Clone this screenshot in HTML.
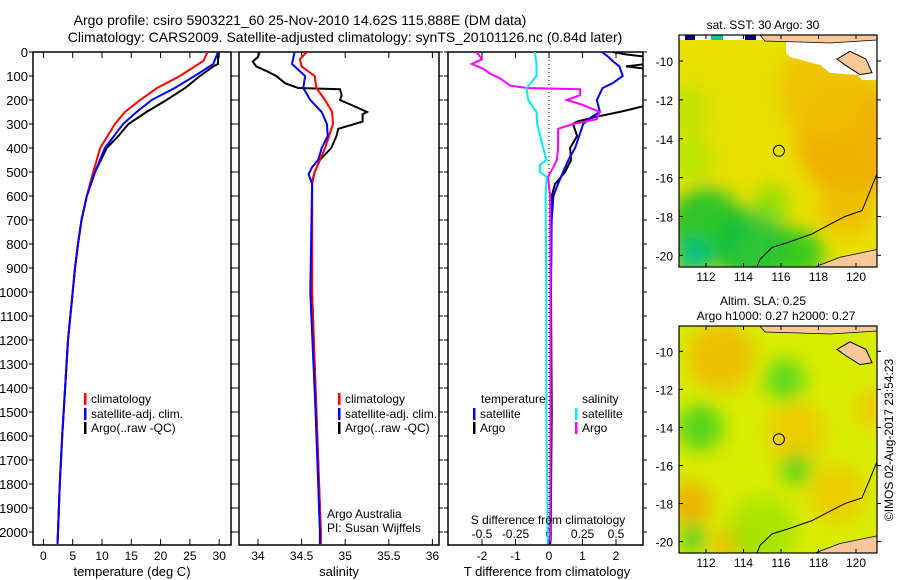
<!DOCTYPE html>
<html><head><meta charset="utf-8">
<style>
html,body{margin:0;padding:0;background:#fff;}
svg{display:block;font-family:"Liberation Sans",sans-serif;}
text{fill:#000;}
</style></head>
<body>
<svg id="chart" width="900" height="580" viewBox="0 0 900 580" xmlns="http://www.w3.org/2000/svg">
<defs>
<clipPath id="c1"><rect x="33" y="52" width="198" height="493"/></clipPath>
<clipPath id="c2"><rect x="239" y="52" width="200" height="493"/></clipPath>
<clipPath id="c3"><rect x="448" y="52" width="195" height="493"/></clipPath>
<clipPath id="m1"><rect x="679" y="35" width="198" height="232"/></clipPath>
<clipPath id="m2"><rect x="679" y="326" width="198" height="227"/></clipPath>
<filter id="blur" x="-50%" y="-50%" width="200%" height="200%"><feGaussianBlur stdDeviation="9"/></filter>
</defs>
<text x="300" y="25" font-size="14" text-anchor="middle">Argo profile: csiro 5903221_60 25-Nov-2010 14.62S 115.888E (DM data)</text>
<text x="345" y="42" font-size="14" text-anchor="middle">Climatology: CARS2009. Satellite-adjusted climatology: synTS_20101126.nc (0.84d later)</text>
<g id="panels"></g>
<g id="maps"></g>
<text transform="translate(893,440) rotate(-90)" font-size="12" text-anchor="middle">©IMOS 02-Aug-2017 23:54:23</text>
</svg>
<script>
// ---------- data ----------
const depthTicks = [0,100,200,300,400,500,600,700,800,900,1000,1100,1200,1300,1400,1500,1600,1700,1800,1900,2000];
const tempTicks = [0,5,10,15,20,25,30];
const salTicks = [34,34.5,35,35.5,36];
const tdiffTicks = [-2,-1,0,1,2];
const sdiffTicks = [-0.5,-0.25,0,0.25,0.5];
const sdiffTickLabels = ["-0.5","-0.25","0","0.25","0.5"];

const tClimDepth = [0,37,100,150,200,250,300,400,500,600,700,800,900,1000,1200,1400,1600,1800,2000,2050];
const tClimVal   = [28.0,27.3,23.3,19.4,16.5,13.9,12.2,9.7,8.5,7.4,6.5,5.9,5.4,5.0,4.2,3.7,3.2,2.8,2.5,2.4];
const tSatDepth  = [0,50,100,150,200,250,300,400,500,600,700,800,900,1000,1200,1400,1600,1800,2000,2050];
const tSatVal    = [29.8,29.0,25.8,22.4,18.5,15.9,13.6,10.5,8.8,7.4,6.5,5.9,5.4,5.0,4.2,3.7,3.2,2.8,2.5,2.4];
const tArgoDepth = [0,50,60,100,150,200,250,300,350,400,500,600,700,800,900,1000,1200,1400,1600,1800,2000,2040];
const tArgoVal   = [29.8,29.8,29.0,26.7,24.2,21.0,17.6,14.5,12.8,10.8,8.8,7.4,6.5,5.9,5.4,5.0,4.2,3.7,3.2,2.8,2.5,2.4];

const sClimDepth = [0,30,60,100,150,200,250,300,400,450,500,550,1000,1500,2000,2050];
const sClimVal   = [34.56,34.48,34.50,34.65,34.67,34.77,34.85,34.86,34.77,34.71,34.65,34.62,34.62,34.67,34.72,34.72];
const sSatDepth  = [0,50,100,150,200,250,300,350,400,450,480,510,550,1000,1500,2000,2050];
const sSatVal    = [34.42,34.39,34.54,34.52,34.60,34.73,34.79,34.80,34.73,34.69,34.62,34.58,34.62,34.60,34.66,34.71,34.71];
const sArgoDepth = [0,20,40,60,80,100,130,150,155,180,200,230,250,260,290,320,350,400,450,500,540,1000,1500,2000,2040];
const sArgoVal   = [34.02,34.00,33.94,33.98,34.10,34.21,34.31,34.46,34.94,34.96,34.94,35.13,35.25,35.20,35.20,34.92,34.90,34.84,34.71,34.65,34.62,34.62,34.67,34.72,34.72];

const dtSatDepth = [0,20,40,60,100,130,150,200,250,270,300,400,450,500,550,600,700,1000,1500,2000,2050];
const dtSatVal   = [1.58,1.77,1.92,2.1,2.2,1.9,1.6,1.43,1.52,1.28,1.02,0.78,0.58,0.42,0.27,0.13,0.08,0.05,0.05,0.04,0.04];
const dtArgoDepth = [0,10,20,50,60,70,100,150,200,230,250,270,290,300,350,400,450,500,550,600,1000,1500,2000,2040];
const dtArgoVal   = [1.9,2.3,2.9,2.9,2.3,2.9,3.2,3.5,3.5,2.7,2.1,1.4,0.84,0.72,0.84,0.63,0.66,0.48,0.18,0.08,0.06,0.08,0.05,0.05];
const dsSatDepth = [0,50,100,150,200,250,300,400,450,470,500,520,600,1000,1500,2000,2050];
const dsSatVal   = [-0.105,-0.093,-0.093,-0.168,-0.155,-0.093,-0.088,-0.043,-0.018,-0.068,-0.068,-0.018,-0.025,-0.02,-0.02,-0.01,-0.01];
const dsArgoDepth = [0,30,50,70,90,110,140,150,155,180,200,220,250,280,300,320,400,450,480,520,600,1000,1500,2000,2040];
const dsArgoVal   = [-0.54,-0.5,-0.575,-0.49,-0.44,-0.365,-0.29,-0.168,0.233,0.233,0.133,0.25,0.38,0.355,0.18,0.068,0.068,0.058,0.033,-0.008,0.008,0.012,0.012,0.01,0.01];

// ---------- scales ----------
const NS = "http://www.w3.org/2000/svg";
const yD = d => 52 + d * 0.24;
const xT = v => 43.4 + v * 5.86;
const xS = v => 258 + (v - 34) * 87.2;
const xDT = v => 549 + v * 33.5;
const xDS = v => 549 + v * 4 * 33.5;
function mk(tag, attrs, parent) {
  const e = document.createElementNS(NS, tag);
  for (const k in attrs) e.setAttribute(k, attrs[k]);
  parent.appendChild(e);
  return e;
}
function txt(parent, x, y, s, anchor, size) {
  const t = mk('text', {x: x, y: y, 'font-size': size || 12, 'text-anchor': anchor || 'start'}, parent);
  t.textContent = s;
  return t;
}
const panels = document.getElementById('panels');

function line(parent, depths, vals, xf, color, clip, name, w) {
  const pts = depths.map((d, i) => xf(vals[i]).toFixed(1) + ',' + yD(d).toFixed(1)).join(' ');
  const p = mk('polyline', {points: pts, fill: 'none', stroke: color, 'stroke-width': w || 2, 'clip-path': 'url(#' + clip + ')'}, parent);
  
  
  return p;
}

function frame(x0, w, xticks, xf, labels, name) {
  const g = mk('g', {}, panels);
  
  
  const r = mk('rect', {x: x0, y: 52, width: w, height: 493, fill: 'none', stroke: '#000', 'stroke-width': 1.5}, g);
  
  
  xticks.forEach((v, i) => {
    const x = xf(v);
    mk('line', {x1: x, y1: 545, x2: x, y2: 539, stroke: '#000'}, g);
    mk('line', {x1: x, y1: 52, x2: x, y2: 58, stroke: '#000'}, g);
    if (labels) {
      const t = txt(g, x, 560, labels[i], 'middle', 12);
      
      
    }
  });
  depthTicks.forEach(d => {
    mk('line', {x1: x0 - 4, y1: yD(d), x2: x0, y2: yD(d), stroke: '#000'}, g);
    mk('line', {x1: x0 + w, y1: yD(d), x2: x0 + w + 4, y2: yD(d), stroke: '#000'}, g);
  });
  return g;
}

// panel 1: temperature
const g1 = frame(33, 198, tempTicks, xT, tempTicks.map(String), 'temperature-panel');
depthTicks.forEach(d => {
  const t = txt(g1, 28, yD(d) + 5, String(d), 'end', 13);
  
  
});
line(g1, tArgoDepth, tArgoVal, xT, '#000', 'c1', 'temperature-argo-line');
line(g1, tClimDepth, tClimVal, xT, '#f00', 'c1', 'temperature-climatology-line');
line(g1, tSatDepth, tSatVal, xT, '#00f', 'c1', 'temperature-satellite-line');
let t = txt(g1, 132, 576, 'temperature (deg C)', 'middle', 13);



// panel 2: salinity
const g2 = frame(239, 200, salTicks, xS, ['34','34.5','35','35.5','36'], 'salinity-panel');
line(g2, sArgoDepth, sArgoVal, xS, '#000', 'c2', 'salinity-argo-line');
line(g2, sClimDepth, sClimVal, xS, '#f00', 'c2', 'salinity-climatology-line');
line(g2, sSatDepth, sSatVal, xS, '#00f', 'c2', 'salinity-satellite-line');
t = txt(g2, 339, 576, 'salinity', 'middle', 13);


t = txt(g2, 327, 518, 'Argo Australia', 'start', 12);


t = txt(g2, 327, 532, 'PI: Susan Wijffels', 'start', 12);



// panel 3: differences
const g3 = frame(448, 195, tdiffTicks, xDT, tdiffTicks.map(String), 'difference-panel');
mk('line', {x1: 549, y1: 52, x2: 549, y2: 545, stroke: '#000', 'stroke-dasharray': '1,3'}, g3);
sdiffTicks.forEach((v, i) => {
  const s = txt(g3, xDS(v), 538, sdiffTickLabels[i], 'middle', 12);
  
  
});
line(g3, dtArgoDepth, dtArgoVal, xDT, '#000', 'c3', 't-diff-argo-line');
line(g3, dtSatDepth, dtSatVal, xDT, '#00f', 'c3', 't-diff-satellite-line');
line(g3, dsArgoDepth, dsArgoVal, xDS, '#f0f', 'c3', 's-diff-argo-line');
line(g3, dsSatDepth, dsSatVal, xDS, '#0ee', 'c3', 's-diff-satellite-line');
t = txt(g3, 547, 576, 'T difference from climatology', 'middle', 13);


t = txt(g3, 548, 524, 'S difference from climatology', 'middle', 12);



// legends
function legItem(g, x, y, color, label, name) {
  const L = mk('g', {}, g);
  
  
  mk('rect', {x: x, y: y - 10, width: 2.5, height: 12, fill: color}, L);
  txt(L, x + 7, y, label, 'start', 12);
}
legItem(g1, 84, 403, '#f00', 'climatology', 'legend-entry-climatology');
legItem(g1, 84, 418, '#00f', 'satellite-adj. clim.', 'legend-entry-satellite');
legItem(g1, 84, 432, '#000', 'Argo(..raw -QC)', 'legend-entry-argo');
legItem(g2, 338, 403, '#f00', 'climatology', 'legend-entry-climatology');
legItem(g2, 338, 418, '#00f', 'satellite-adj. clim.', 'legend-entry-satellite');
legItem(g2, 338, 432, '#000', 'Argo(..raw -QC)', 'legend-entry-argo');
t = txt(g3, 481, 403, 'temperature', 'start', 12);


t = txt(g3, 582, 403, 'salinity', 'start', 12);


legItem(g3, 473, 418, '#00f', 'satellite', 'legend-entry-t-satellite');
legItem(g3, 473, 432, '#000', 'Argo', 'legend-entry-t-argo');
legItem(g3, 575, 418, '#0ee', 'satellite', 'legend-entry-s-satellite');
legItem(g3, 575, 432, '#f0f', 'Argo', 'legend-entry-s-argo');

// ---------- maps ----------
const maps = document.getElementById('maps');
const lonTicks = [112,114,116,118,120];
const latTicks = [-10,-12,-14,-16,-18,-20];
const argoLon = 115.888, argoLat = -14.62;
const sstBlobs = [ // lon, lat, radius(deg), color
  [119.8,-14,3.0,'#f0a800'],[118.3,-11.5,2.5,'#f0c000'],[119.5,-17.5,1.5,'#f0b800'],
  [111,-12.5,1.2,'#b8e400'],[111.2,-15,1.2,'#b0e800'],
  [112,-18.5,2.0,'#10c030'],[114.5,-19.6,2.0,'#10c040'],[117,-19.9,1.3,'#20c820'],[111.3,-20.1,1.0,'#00c090'],[115.5,-17.3,0.9,'#80e000']
];
const slaBlobs = [
  [112.8,-10.3,1.8,'#f0b800'],[116.8,-14.3,1.6,'#f0c800'],[119,-17.5,1.5,'#f0c800'],[111.2,-18,1.1,'#f0a800'],[113.5,-20.3,1.2,'#f0b800'],[121,-13,1,'#f0c800'],
  [116.2,-11.5,1.1,'#50d820'],[111.7,-14,1.2,'#40d020'],[116.8,-16.2,0.8,'#40d020'],[111.3,-19.8,0.7,'#30c830'],[115,-19.5,1.8,'#a0e400']
];
function drawMap(top, bottom, latTop, latBottom, clip, base, blobs, title1, title2, name, isSST) {
  const g = mk('g', {}, maps);
  
  
  const xL = lon => 706 + (lon - 112) * 18.75;
  const yL = lat => top + (latTop - lat) * (bottom - top) / (latTop - latBottom);
  const inner = mk('g', {'clip-path': 'url(#' + clip + ')'}, g);
  mk('rect', {x: 679, y: top, width: 198, height: bottom - top, fill: base}, inner);
  const bg = mk('g', {filter: 'url(#blur)'}, inner);
  blobs.forEach(b => {
    const c = mk('ellipse', {cx: xL(b[0]), cy: yL(b[1]), rx: b[2] * 18.75, ry: b[2] * 19.4, fill: b[3], opacity: 0.85}, bg);
    
    
  });
  if (isSST) {
    mk('path', {d: `M679,${top} L877,${top} L877,${top+45} L862,${top+45} L858,${top+40} L830,${top+38} L820,${top+30} L790,${top+22} L786,${top+17} L786,${top+5} L679,${top+5}Z`, fill: '#fff'}, inner);
    mk('rect', {x: 685, y: top, width: 10, height: 5, fill: '#000080'}, inner);
    mk('rect', {x: 711, y: top, width: 12, height: 5, fill: '#00c8a0'}, inner);
    mk('rect', {x: 745, y: top, width: 11, height: 5, fill: '#000080'}, inner);
  }
  const yy = lat => yL(lat);
  mk('path', {d: `M760,${top} L877,${top} L877,${top+5} L830,${top+8} L800,${top+7} L765,${top+6}Z`, fill: '#f8c898', stroke: '#000', 'stroke-width': 0.8}, inner);
  mk('path', {d: `M837,${yy(-9.9)} L850,${yy(-9.5)} L866,${yy(-9.9)} L872,${yy(-10.6)} L860,${yy(-10.7)} L845,${yy(-10.2)}Z`, fill: '#f8c898', stroke: '#000', 'stroke-width': 1}, inner);
  mk('path', {d: `M815,${bottom} L840,${yy(-20.1)} L877,${yy(-19.7)} L877,${bottom}Z`, fill: '#f8c898', stroke: '#000', 'stroke-width': 0.8}, inner);
  mk('polyline', {points: `877,${yy(-15.8)} 870,${yy(-16.7)} 862,${yy(-17.7)} 845,${yy(-18)} 830,${yy(-18.4)} 812,${yy(-18.9)} 790,${yy(-19.3)} 772,${yy(-19.6)} 760,${yy(-20.2)} 757,${bottom}`, fill: 'none', stroke: '#000', 'stroke-width': 1}, inner);
  mk('rect', {x: 679, y: top, width: 198, height: bottom - top, fill: 'none', stroke: '#000', 'stroke-width': 1.2}, g);
  const mkr = mk('circle', {cx: xL(argoLon), cy: yL(argoLat), r: 5.5, fill: 'none', stroke: '#000', 'stroke-width': 1}, g);
  
  
  lonTicks.forEach(lo => {
    mk('line', {x1: xL(lo), y1: bottom, x2: xL(lo), y2: bottom - 4, stroke: '#000'}, g);
    mk('line', {x1: xL(lo), y1: top, x2: xL(lo), y2: top + 4, stroke: '#000'}, g);
    const s = txt(g, xL(lo), bottom + 14, String(lo), 'middle', 12);
    
    
  });
  latTicks.forEach(la => {
    mk('line', {x1: 679, y1: yL(la), x2: 683, y2: yL(la), stroke: '#000'}, g);
    mk('line', {x1: 877, y1: yL(la), x2: 881, y2: yL(la), stroke: '#000'}, g);
    const s = txt(g, 673, yL(la) + 5, String(la), 'end', 12);
    
    
  });
  if (title1) {
    const s = txt(g, 763, top - (title2 ? 21 : 6), title1, 'middle', 12);
    
    
  }
  if (title2) {
    const s = txt(g, 776, top - 6, title2, 'middle', 12);
    
    
  }
}
drawMap(35, 267, -8.66, -20.6, 'm1', '#e8e000', sstBlobs, 'sat. SST: 30 Argo: 30', null, 'sst-map', true);
drawMap(326, 553, -8.67, -20.6, 'm2', '#d8ec00', slaBlobs, 'Altim. SLA: 0.25', 'Argo h1000: 0.27 h2000: 0.27', 'sla-map', false);
</script>
</body></html>
